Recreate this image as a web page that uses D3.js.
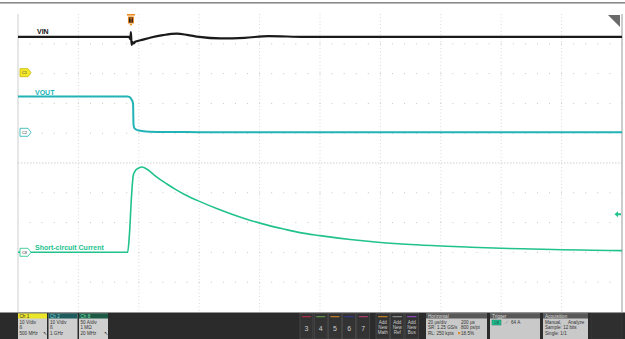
<!DOCTYPE html>
<html><head><meta charset="utf-8">
<script src="https://cdn.jsdelivr.net/npm/d3@7"></script>
<style>html,body{margin:0;padding:0;background:#fff;overflow:hidden}svg{display:block;font-family:"Liberation Sans",Arial,sans-serif}</style>
</head><body>
<svg id="c" width="625" height="339"></svg>
<script>
// ---- data (time in µs across 200 µs screen, 20 µs/div) ----
const vinT   = [0, 20, 36.8, 37.2, 37.4, 37.6, 37.9, 38.3, 38.8, 39.5, 41, 44, 48, 52.6, 56, 60, 67, 75, 83, 95, 110, 140, 170, 200];
const vinV   = [12, 12, 12, 11.3, 13.6, 9.3, 10.3, 9.8, 10.4, 10.6, 11.0, 11.8, 12.6, 13.1, 12.7, 12.0, 11.5, 11.7, 12.3, 12.0, 12.0, 12.0, 12.0, 12.0];
const voutT  = [0, 20, 36.3, 36.8, 37.3, 37.8, 38.1, 38.25, 38.6, 39.5, 41, 43.7, 50, 60, 100, 150, 200];
const voutV  = [12, 12, 12, 11.9, 11.5, 10.6, 9.6, 2.6, 1.3, 0.75, 0.45, 0.2, 0.1, 0.05, 0.0, 0.0, 0.0];
const curT   = [0, 20, 36.3, 36.9, 37.6, 38.2, 39.0, 40.0, 41.0, 42.0, 43.0, 45, 47, 49.2, 52, 55, 60.3, 66, 71.3, 77, 82.3, 88, 93.4, 100, 110, 120, 130, 140, 150, 160, 170, 180, 190, 200];
const curA   = [0, 0, 0, 30, 95, 130, 138, 141.5, 143, 141.5, 138.5, 130, 122.5, 115, 106, 97.5, 85, 73, 63, 53.5, 46, 39, 33, 28, 21.5, 16.5, 13, 10.5, 8.5, 6.8, 5.5, 4.4, 3.5, 2.8];
const labels = ["VIN", "VOUT", "Short-circuit Current"];
const chScale = [10, 10, 50];   // V/div, V/div, A/div
const trigLevel = 64;           // A
const chanInfo = [["Ch 1","10 V/div","ß","500 MHz"],["Ch 2","10 V/div","ß","1 GHz"],["Ch 8","50 A/div","1 MΩ","20 MHz"]];
const btnLabels = ["3","4","5","6","7"];
const addLabels = [["Add","New","Math"],["Add","New","Ref"],["Add","New","Bus"]];
const horiz = [["20 µs/div","200 µs"],["SR: 1.25 GS/s","800 ps/pt"],["RL: 250 kpts","18.5%"]];
const acq = [["Manual,","Analyze"],["Sample: 12 bits",""],["Single: 1/1",""]];

const svg = d3.select("#c");
const L = 18, R = 622, T = 14, B = 312, div = (B - T) / 10;
const x = d3.scaleLinear().domain([0, 200]).range([L, R]);
const refY = [72.7, 132.3, 252.3];
const yS = chScale.map((s, i) => d3.scaleLinear().domain([0, s]).range([refY[i], refY[i] - div]));
const colV = "#1a1a1a", colO = "#22b3b6", colC = "#22c28e";

// top rule
svg.append("rect").attr("x",0).attr("y",2).attr("width",625).attr("height",1.6).attr("fill","#8a8a8a");

// grid
const g = svg.append("g");
for (let k = 1; k < 10; k++) {
  g.append("line").attr("x1", x(k*20)).attr("x2", x(k*20)).attr("y1", T).attr("y2", B)
   .attr("stroke", "#c4c4c4").attr("stroke-width", 0.8).attr("stroke-dasharray", "0.8,2.6");
}
for (let k = 1; k < 10; k++) {
  const yy = T + k*div;
  if (k === 5) {
    g.append("line").attr("x1", L).attr("x2", R).attr("y1", yy).attr("y2", yy)
     .attr("stroke", "#c4c4c4").attr("stroke-width", 0.8).attr("stroke-dasharray", "1.5,1.5");
  } else {
    g.append("line").attr("x1", L).attr("x2", R).attr("y1", yy).attr("y2", yy)
     .attr("stroke", "#c4c4c4").attr("stroke-width", 1).attr("stroke-dasharray", "1,11.08").attr("stroke-dashoffset", -11.58);
  }
}
g.append("line").attr("x1",L).attr("x2",L).attr("y1",T).attr("y2",B).attr("stroke","#cfcfcf").attr("stroke-width",1);
g.append("line").attr("x1",R).attr("x2",R).attr("y1",T).attr("y2",B).attr("stroke","#9a9a9a").attr("stroke-width",1);

// traces
const line = (ys) => d3.line().x(d => x(d[0])).y(d => ys(d[1])).curve(d3.curveMonotoneX);
svg.append("path").datum(vinT.map((t,i)=>[t,vinV[i]])).attr("d", line(yS[0]))
  .attr("fill","none").attr("stroke",colV).attr("stroke-width",2.2);
svg.append("path").datum(voutT.map((t,i)=>[t,voutV[i]])).attr("d", line(yS[1]))
  .attr("fill","none").attr("stroke",colO).attr("stroke-width",2);
svg.append("path").datum(curT.map((t,i)=>[t,curA[i]])).attr("d", line(yS[2]))
  .attr("fill","none").attr("stroke",colC).attr("stroke-width",1.6);

// labels
svg.append("text").attr("x",37).attr("y",33.5).text(labels[0]).attr("font-size",7).attr("font-weight","bold").attr("fill","#111");
svg.append("text").attr("x",35).attr("y",94.5).text(labels[1]).attr("font-size",7).attr("font-weight","bold").attr("fill",colO);
svg.append("text").attr("x",35).attr("y",249.5).text(labels[2]).attr("font-size",7).attr("font-weight","bold").attr("fill",colC);

// channel markers
const marker = (yy, fill, stroke, txt) => {
  svg.append("path").attr("d", `M20,${yy-4} L28,${yy-4} L31,${yy} L28,${yy+4} L20,${yy+4} Z`)
    .attr("fill", fill).attr("stroke", stroke).attr("stroke-width", 0.8);
  svg.append("text").attr("x",24.5).attr("y",yy+1.6).attr("text-anchor","middle").attr("font-size",4).attr("fill","#333").text(txt);
};
marker(refY[0], "#f3e829", "#c8b800", "C1");
marker(refY[1], "#ffffff", colO, "C2");
marker(refY[2], "#ffffff", colC, "C8");

// trigger T marker
const tx = x(37.4);
svg.append("rect").attr("x",tx-4).attr("y",14).attr("width",8).attr("height",1.6).attr("fill","#f08a1c");
svg.append("rect").attr("x",tx-3).attr("y",16.5).attr("width",6).attr("height",7).attr("fill","#f08a1c");
svg.append("rect").attr("x",tx-2).attr("y",17.5).attr("width",4).attr("height",5).attr("fill","#222");
svg.append("text").attr("x",tx).attr("y",22).attr("text-anchor","middle").attr("font-size",4.5).attr("font-weight","bold").attr("fill","#f08a1c").text("T");
svg.append("path").attr("d",`M${tx-1.5},24 L${tx+1.5},24 L${tx},26 Z`).attr("fill","#f08a1c");

// trigger level arrow
const ty = yS[2](trigLevel);
svg.append("path").attr("d",`M614.5,${ty} L618,${ty-3} L618,${ty-1} L621,${ty-1} L621,${ty+1} L618,${ty+1} L618,${ty+3} Z`).attr("fill",colC);

// top-right triangle
svg.append("path").attr("d","M608,15 L620,15 L620,27 Z").attr("fill","#6a6a6a");

// ---- bottom bar ----
const bb = svg.append("g");
bb.append("rect").attr("x",0).attr("y",312.5).attr("width",625).attr("height",27).attr("fill","#2b2b2b");
const fs = 4.6;
const chHdr = ["#ece62a", "#1d5b5d", "#1c5a45"];
const chHdrTxt = ["#333", "#7fd6d8", "#6fe0b6"];
chanInfo.forEach((c, i) => {
  const x0 = 18 + i*30.5, w = 29;
  bb.append("rect").attr("x",x0).attr("y",313.5).attr("width",w).attr("height",25.5).attr("fill","#cfcfcf");
  bb.append("rect").attr("x",x0).attr("y",313.5).attr("width",w).attr("height",5).attr("fill",chHdr[i]);
  bb.append("text").attr("x",x0+1.5).attr("y",317.8).attr("font-size",fs).attr("fill",chHdrTxt[i]).text(c[0]);
  bb.append("text").attr("x",x0+1.5).attr("y",323.8).attr("font-size",fs).attr("fill","#333").text(c[1]);
  bb.append("text").attr("x",x0+1.5).attr("y",329).attr("font-size",fs).attr("fill","#333").text(c[2]);
  bb.append("text").attr("x",x0+1.5).attr("y",335).attr("font-size",fs).attr("fill","#333").text(c[3]);
  if (i !== 1) bb.append("text").attr("x",x0+w-4).attr("y",334.5).attr("font-size",fs).attr("fill","#333").text("↖");
});
const btnCols = ["#c0304a","#6aa84f","#d98c2a","#3a3aa0","#c0407a"];
btnLabels.forEach((b, i) => {
  const x0 = 300 + i*14.2;
  bb.append("rect").attr("x",x0).attr("y",313.5).attr("width",13).attr("height",25.5).attr("fill","#333").attr("stroke","#555").attr("stroke-width",0.6);
  bb.append("rect").attr("x",x0+2).attr("y",316.2).attr("width",9).attr("height",1).attr("fill",btnCols[i]);
  bb.append("text").attr("x",x0+6.5).attr("y",331).attr("text-anchor","middle").attr("font-size",7).attr("fill","#ccc").text(b);
});
const addCols = ["#d98c2a","#9a9a9a","#9a4fd0"];
addLabels.forEach((a, i) => {
  const x0 = 376 + i*14.5;
  bb.append("rect").attr("x",x0).attr("y",313.5).attr("width",13.5).attr("height",25.5).attr("fill","#333").attr("stroke","#555").attr("stroke-width",0.6);
  bb.append("rect").attr("x",x0+2).attr("y",316.2).attr("width",9.5).attr("height",1).attr("fill",addCols[i]);
  a.forEach((s, j) => bb.append("text").attr("x",x0+6.75).attr("y",324+j*5).attr("text-anchor","middle").attr("font-size",fs).attr("fill","#ccc").text(s));
});
const panel = (x0, w, title) => {
  bb.append("rect").attr("x",x0).attr("y",313.5).attr("width",w).attr("height",25.5).attr("fill","#c9c9c9");
  bb.append("rect").attr("x",x0).attr("y",313.5).attr("width",w).attr("height",5).attr("fill","#585858");
  bb.append("text").attr("x",x0+2).attr("y",317.8).attr("font-size",fs).attr("fill","#ddd").text(title);
};
panel(426, 61, "Horizontal");
horiz.forEach((r, j) => {
  bb.append("text").attr("x",428).attr("y",323.8+j*5.4).attr("font-size",fs).attr("fill","#333").text(r[0]);
  bb.append("text").attr("x",461).attr("y",323.8+j*5.4).attr("font-size",fs).attr("fill","#333").text(r[1]);
});
bb.append("rect").attr("x",458).attr("y",332).attr("width",2.2).attr("height",2.2).attr("fill","#d98c2a");
panel(490, 50, "Trigger");
bb.append("rect").attr("x",492).attr("y",320).attr("width",9).attr("height",5).attr("fill","#22c28e").attr("stroke","#1a7a5a").attr("stroke-width",0.5);
bb.append("text").attr("x",496.5).attr("y",324).attr("text-anchor","middle").attr("font-size",3.8).attr("fill","#124").text("C8");
bb.append("text").attr("x",505).attr("y",324.2).attr("font-size",fs).attr("fill","#555").text("⟋");
bb.append("text").attr("x",511).attr("y",324.2).attr("font-size",fs).attr("fill","#333").text(trigLevel + " A");
panel(543, 45, "Acquisition");
acq.forEach((r, j) => {
  bb.append("text").attr("x",545).attr("y",323.8+j*5.4).attr("font-size",fs).attr("fill","#333").text(r[0]);
  if (r[1]) bb.append("text").attr("x",568).attr("y",323.8+j*5.4).attr("font-size",fs).attr("fill","#333").text(r[1]);
});
bb.append("rect").attr("x",591).attr("y",313.5).attr("width",31).attr("height",25.5).attr("fill","#2f2f2f").attr("stroke","#3c3c3c").attr("stroke-width",0.6);
</script>
</body></html>
